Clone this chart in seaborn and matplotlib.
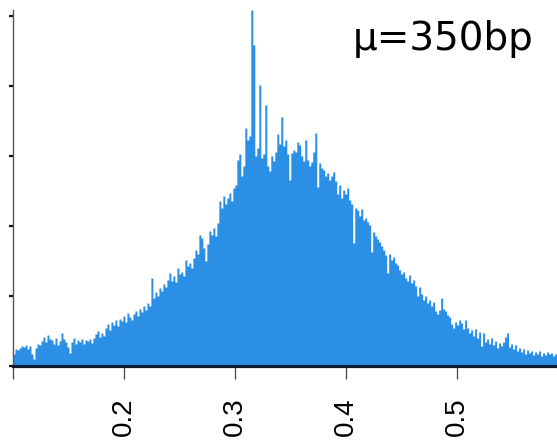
import numpy as np
import pandas as pd
import matplotlib
matplotlib.use("Agg")
import matplotlib.pyplot as plt
import seaborn as sns

# Fragment-length histogram: per-bin counts (y ticks every 70 counts)
bin_start = 0.1
bin_width = 0.0018
counts = [
    12, 17, 16, 18, 20, 19, 21, 17, 20, 12,
    7, 18, 22, 21, 25, 29, 24, 31, 27, 26,
    22, 28, 21, 25, 33, 27, 24, 19, 13, 24,
    28, 22, 26, 24, 27, 22, 26, 25, 27, 23,
    28, 32, 35, 29, 33, 30, 38, 42, 36, 44,
    41, 46, 40, 47, 45, 50, 44, 53, 49, 46,
    52, 55, 50, 57, 54, 60, 56, 63, 60, 88,
    68, 74, 70, 78, 75, 82, 79, 86, 93, 85,
    90, 84, 98, 92, 94, 90, 106, 100, 103, 98,
    108, 116, 112, 131, 128, 118, 105, 122, 135, 131,
    138, 130, 143, 165, 158, 170, 162, 168, 173, 165,
    178, 181, 206, 212, 190, 200, 238, 226, 230, 356,
    321, 210, 218, 281, 208, 212, 261, 200, 195, 210,
    205, 214, 232, 222, 249, 220, 226, 212, 186, 213,
    216, 214, 224, 221, 210, 205, 226, 206, 200, 204,
    214, 233, 179, 203, 198, 196, 190, 193, 186, 190,
    194, 185, 172, 181, 168, 176, 172, 178, 166, 162,
    123, 158, 156, 150, 157, 146, 148, 144, 141, 114,
    134, 130, 127, 124, 120, 116, 111, 93, 112, 106,
    109, 103, 101, 96, 92, 94, 88, 85, 91, 83,
    86, 80, 70, 79, 72, 66, 70, 63, 66, 60,
    64, 55, 52, 56, 68, 57, 55, 51, 49, 42,
    38, 44, 41, 46, 43, 37, 46, 38, 33, 36,
    30, 37, 28, 34, 20, 33, 24, 27, 22, 28,
    21, 25, 18, 23, 20, 24, 29, 33, 19, 22,
    17, 21, 15, 18, 14, 17, 12, 16, 13, 15,
    11, 14, 12, 15, 10, 13, 11, 14, 12, 13,
    10, 12,
]
x_ticks = [0.1, 0.2, 0.3, 0.4, 0.5]
x_tick_labels = ["", "0.2", "0.3", "0.4", "0.5"]
y_ticks = [0, 70, 140, 210, 280, 350]
annotation = "μ=350bp"

n_bins = len(counts)
edges = bin_start + bin_width * np.arange(n_bins + 1)
df = pd.DataFrame({
    "position": (edges[:-1] + edges[1:]) / 2,
    "count": counts,
})

sns.set_theme(style="ticks")
plt.rcParams["font.family"] = ["Liberation Sans", "DejaVu Sans"]

fig = plt.figure(figsize=(5.57, 4.45), dpi=100)
ax = fig.add_axes([13 / 557, 79 / 445, 1 - 13 / 557, 356 / 445])

sns.histplot(
    data=df, x="position", weights="count", bins=edges.tolist(),
    element="step", fill=True, color="#2c8fe6", alpha=1.0,
    linewidth=0, ax=ax,
)

ax.set_xlim(0.1, 0.59)
ax.set_ylim(0, 356)
ax.set_xlabel("")
ax.set_ylabel("")

ax.set_xticks(x_ticks)
ax.set_xticklabels(x_tick_labels, rotation=90, fontsize=20, color="black")
ax.set_yticks(y_ticks)
ax.set_yticklabels([""] * len(y_ticks))

ax.tick_params(axis="x", direction="out", length=9.5, width=0.9,
               color="#444444", pad=13)
ax.tick_params(axis="y", direction="out", length=3, width=1.6,
               color="#111111")

for side in ("top", "right"):
    ax.spines[side].set_visible(False)
ax.spines["left"].set_color("#555555")
ax.spines["left"].set_linewidth(1.0)
ax.spines["bottom"].set_color("#0c1a2d")
ax.spines["bottom"].set_linewidth(2.3)

fig.text(533 / 557, 1 - 50 / 445, annotation, ha="right", va="baseline",
         fontsize=28, family=["DejaVu Sans"], color="black")

fig.savefig("out.png", dpi=100)
